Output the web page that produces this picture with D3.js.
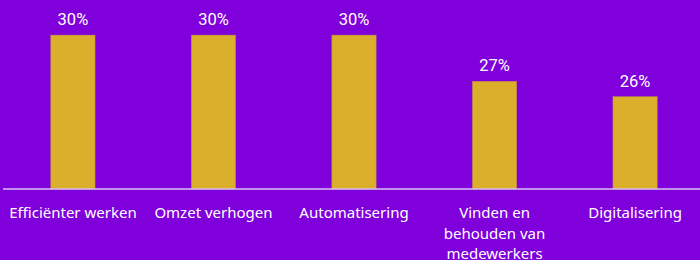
<!DOCTYPE html>
<html><head><meta charset="utf-8">
<script src="https://cdn.jsdelivr.net/npm/d3@7"></script>
<style>html,body{margin:0;padding:0;background:#8000dc;}svg{display:block;}</style>
</head><body>
<svg id="c" width="700" height="260"></svg>
<script>
const categories = ["Efficiënter werken", "Omzet verhogen", "Automatisering", "Vinden en\nbehouden van\nmedewerkers", "Digitalisering"];
const values = [30, 30, 30, 27, 26];
const valueLabels = ["30%", "30%", "30%", "27%", "26%"];

const W = 700, H = 260;
const svg = d3.select("#c");
svg.append("rect").attr("width", W).attr("height", H).attr("fill", "#8000dc");

const x = d3.scaleBand().domain(categories).range([3, 705]).paddingInner(0.685).paddingOuter(0.34);
const y = d3.scaleLinear().domain([20, 31.5]).range([189, 12]);

const font = "'Noto Sans', sans-serif";

svg.selectAll("rect.bar").data(categories).enter().append("rect")
  .attr("class", "bar")
  .attr("x", d => x(d))
  .attr("width", x.bandwidth())
  .attr("y", (d, i) => y(values[i]))
  .attr("height", (d, i) => y(20) - y(values[i]))
  .attr("fill", "#dbae2b")
  .attr("stroke", "#b98a4a").attr("stroke-width", 0.5);

svg.selectAll("text.val").data(categories).enter().append("text")
  .attr("class", "val")
  .attr("x", d => x(d) + x.bandwidth() / 2)
  .attr("y", (d, i) => y(values[i]) - 10)
  .attr("text-anchor", "middle")
  .attr("fill", "#ffffff")
  .style("font-family", "Roboto, sans-serif")
  .style("font-size", "16.5px")
  .text((d, i) => valueLabels[i]);

const axis = d3.axisBottom(x).tickSize(0).tickPadding(0);
const g = svg.append("g").attr("transform", "translate(0,189)").call(axis);
g.select(".domain").attr("stroke", "#d8c0f4").attr("stroke-width", 1.5).attr("d", "M3,0H700");
g.selectAll(".tick text").each(function(d) {
  const t = d3.select(this);
  t.text(null).attr("y", 0).attr("dy", null)
    .attr("fill", "#ffffff").style("font-family", font).style("font-size", "15px");
  d.split("\n").forEach((line, i) => {
    t.append("tspan").attr("x", 0).attr("y", 29 + i * 20.5).text(line);
  });
});
</script>
</body></html>
